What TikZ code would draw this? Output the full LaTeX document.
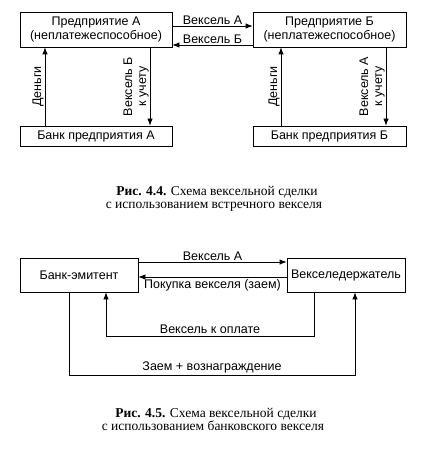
\documentclass[tikz,border=0pt]{standalone}
\usepackage{fontspec}
\setmainfont{Liberation Serif}
\newfontfamily\diagfont{Liberation Sans}
\usetikzlibrary{arrows.meta}
\begin{document}
\begin{tikzpicture}[x=1pt,y=-1pt,
  box/.style={draw,line width=0.8pt,inner sep=0pt,font=\diagfont\fontsize{12.5}{14}\selectfont,align=center},
  lbl/.style={font=\diagfont\fontsize{12.5}{14}\selectfont,inner sep=1pt,align=center},
  arr/.style={line width=0.8pt,-{Latex[length=7pt,width=5.5pt]}},
  captext/.style={font=\fontsize{13.5}{15}\selectfont,anchor=base,inner sep=0pt}]
\useasboundingbox (0,0) rectangle (422,449);
% Figure 4.4
\node[box,minimum width=152pt,minimum height=35pt] (pa) at (96,29.5) {Предприятие А\\(неплатежеспособное)};
\node[box,minimum width=153pt,minimum height=35pt] (pb) at (329.5,29.5) {Предприятие Б\\(неплатежеспособное)};
\node[box,minimum width=152pt,minimum height=20pt] (ba) at (96,136) {Банк предприятия А};
\node[box,minimum width=153pt,minimum height=20pt] (bb) at (329.5,136) {Банк предприятия Б};
\draw[arr] (pa.east |- 0,26) -- node[lbl,above] {Вексель А} (pb.west |- 0,26);
\draw[arr] (pb.west |- 0,45) -- node[lbl,above] {Вексель Б} (pa.east |- 0,45);
\draw[arr] (ba.north -| 45,0) -- node[lbl,rotate=90,above] {Деньги} (pa.south -| 45,0);
\draw[arr] (pa.south -| 150,0) -- node[lbl,rotate=90,above] {Вексель Б\\к учету} (ba.north -| 150,0);
\draw[arr] (bb.north -| 281,0) -- node[lbl,rotate=90,above] {Деньги} (pb.south -| 281,0);
\draw[arr] (pb.south -| 386,0) -- node[lbl,rotate=90,above] {Вексель А\\к учету} (bb.north -| 386,0);
\node[captext] (c1a) at (217,195) {\textbf{Рис. 4.4.} Схема вексельной сделки};
\node[captext] (c1b) at (214,208.5) {с использованием встречного векселя};
% Figure 4.5
\node[box,minimum width=118pt,minimum height=34pt] (be) at (79,275) {Банк-эмитент};
\node[box,minimum width=118pt,minimum height=34pt] (vd) at (346,275) {Векселедержатель};
\draw[arr] (be.east |- 0,262) -- node[lbl,above] {Вексель А} (vd.west |- 0,262);
\draw[arr] (vd.west |- 0,277) -- node[lbl,below=1pt] {Покупка векселя (заем)} (be.east |- 0,277);
\coordinate (k1) at (314,336);
\coordinate (k2) at (106,336);
\draw[arr] (vd.south -| k1) -- (k1) -- node[lbl,above=1pt] {Вексель к оплате} (k2) -- (be.south -| k2);
\coordinate (z1) at (69,375);
\coordinate (z2) at (355,375);
\draw[arr] (be.south -| z1) -- (z1) -- node[lbl,above=1pt] {Заем + вознаграждение} (z2) -- (vd.south -| z2);
\node[captext] (c2a) at (216,417) {\textbf{Рис. 4.5.} Схема вексельной сделки};
\node[captext] (c2b) at (213,430.5) {с использованием банковского векселя};
\end{tikzpicture}
\end{document}
